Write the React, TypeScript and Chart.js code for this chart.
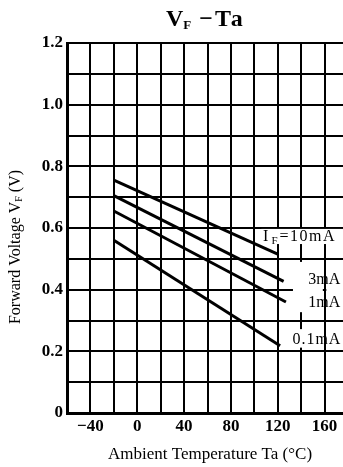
import React, { useEffect, useRef } from 'react';
import { Chart, registerables } from 'chart.js';

Chart.register(...registerables);

// ---- data ----
const tempIF10mA = [-20, 120];
const vfIF10mA = [0.755, 0.515];
const tempIF3mA = [-20, 125];
const vfIF3mA = [0.705, 0.427];
const tempIF1mA = [-20, 127];
const vfIF1mA = [0.655, 0.36];
const tempIF01mA = [-20, 122];
const vfIF01mA = [0.56, 0.218];

const xTickValues = [-40, 0, 40, 80, 120, 160];
const xTickLabels = ['−40', '0', '40', '80', '120', '160'];
const yTickValues = [0, 0.2, 0.4, 0.6, 0.8, 1.0, 1.2];
const yTickLabels = ['0', '0.2', '0.4', '0.6', '0.8', '1.0', '1.2'];

const titleParts = ['V', 'F', '−Ta'];
const xAxisTitle = 'Ambient Temperature Ta (°C)';
const yAxisTitleParts = ['Forward Voltage V', 'F', ' (V)'];
const label10mA = ['I', 'F', '=10mA'];
const label3mA = '3mA';
const label1mA = '1mA';
const label01mA = '0.1mA';

const SERIF = '"Liberation Serif", "Times New Roman", serif';

type Part = { text: string; size: number; bold?: boolean; dy?: number; spacing?: number; gap?: number };

function drawParts(ctx: CanvasRenderingContext2D, parts: Part[], x: number, y: number, align: 'left' | 'center') {
  const widths = parts.map((p) => {
    ctx.font = `${p.bold ? 'bold ' : ''}${p.size}px ${SERIF}`;
    (ctx as any).letterSpacing = `${p.spacing || 0}px`;
    return ctx.measureText(p.text).width + (p.gap || 0);
  });
  const total = widths.reduce((a, b) => a + b, 0);
  let cx = align === 'center' ? x - total / 2 : x;
  parts.forEach((p, i) => {
    ctx.font = `${p.bold ? 'bold ' : ''}${p.size}px ${SERIF}`;
    (ctx as any).letterSpacing = `${p.spacing || 0}px`;
    ctx.fillText(p.text, cx, y + (p.dy || 0));
    cx += widths[i];
  });
  (ctx as any).letterSpacing = '0px';
}

const labelBoxes = {
  id: 'labelBoxes',
  beforeDatasetsDraw(chart: any) {
    const ctx = chart.ctx as CanvasRenderingContext2D;
    const x = chart.scales.x;
    const y = chart.scales.y;
    ctx.save();
    ctx.fillStyle = '#fff';
    const box = (t0: number, t1: number, v0: number, v1: number) => {
      const px0 = x.getPixelForValue(t0);
      const px1 = x.getPixelForValue(t1);
      const py0 = y.getPixelForValue(v1);
      const py1 = y.getPixelForValue(v0);
      ctx.fillRect(px0, py0, px1 - px0, py1 - py0);
    };
    box(106, 185, 0.548, 0.597);
    box(133, 158.5, 0.327, 0.49);
    box(161.5, 185, 0.327, 0.49);
    box(131, 158.5, 0.212, 0.272);
    box(161.5, 185, 0.212, 0.272);
    ctx.restore();
  },
};

const textPlugin = {
  id: 'texts',
  afterDatasetsDraw(chart: any) {
    const ctx = chart.ctx as CanvasRenderingContext2D;
    const x = chart.scales.x;
    const y = chart.scales.y;
    ctx.save();
    ctx.fillStyle = '#000';
    ctx.textBaseline = 'alphabetic';
    ctx.textAlign = 'left';

    // title
    drawParts(ctx, [
      { text: titleParts[0], size: 24, bold: true },
      { text: titleParts[1], size: 13, bold: true, dy: 3, gap: 8 },
      { text: titleParts[2], size: 24, bold: true, spacing: 2 },
    ], 166, 26, 'left');

    // x axis title
    drawParts(ctx, [{ text: xAxisTitle, size: 17 }], 210, 459, 'center');

    // y axis title (rotated)
    ctx.save();
    ctx.translate(19.5, 247);
    ctx.rotate(-Math.PI / 2);
    drawParts(ctx, [
      { text: yAxisTitleParts[0], size: 16 },
      { text: yAxisTitleParts[1], size: 10, dy: 2 },
      { text: yAxisTitleParts[2], size: 16 },
    ], 0, 0, 'center');
    ctx.restore();

    // series labels
    drawParts(ctx, [
      { text: label10mA[0], size: 16, gap: 3 },
      { text: label10mA[1], size: 11, dy: 3, gap: 2 },
      { text: label10mA[2], size: 16, spacing: 1.5 },
    ], x.getPixelForValue(107.5), y.getPixelForValue(0.558), 'left');
    drawParts(ctx, [{ text: label3mA, size: 16, spacing: 0 }], x.getPixelForValue(146), y.getPixelForValue(0.418), 'left');
    drawParts(ctx, [{ text: label1mA, size: 16, spacing: 0 }], x.getPixelForValue(146), y.getPixelForValue(0.344), 'left');
    drawParts(ctx, [{ text: label01mA, size: 16, spacing: 1 }], x.getPixelForValue(132.5), y.getPixelForValue(0.225), 'left');
    ctx.restore();
  },
};

function pts(t: number[], v: number[]) {
  return t.map((tt, i) => ({ x: tt, y: v[i] }));
}

function near(a: number, b: number) {
  return Math.abs(a - b) < 1e-6;
}

export default function App() {
  const ref = useRef<HTMLCanvasElement | null>(null);
  useEffect(() => {
    if (!ref.current) return;
    const lineDs = (data: { x: number; y: number }[]) => ({
      data,
      borderColor: '#000',
      borderWidth: 3,
      pointRadius: 0,
      fill: false,
      tension: 0,
    });
    const chart = new Chart(ref.current, {
      type: 'line',
      data: {
        datasets: [
          lineDs(pts(tempIF10mA, vfIF10mA)),
          lineDs(pts(tempIF3mA, vfIF3mA)),
          lineDs(pts(tempIF1mA, vfIF1mA)),
          lineDs(pts(tempIF01mA, vfIF01mA)),
        ],
      },
      options: {
        responsive: false,
        maintainAspectRatio: false,
        devicePixelRatio: 1,
        animation: false,
        layout: { padding: { top: 43, right: 12, left: 0, bottom: 0 } },
        plugins: { legend: { display: false }, tooltip: { enabled: false }, title: { display: false } },
        scales: {
          x: {
            type: 'linear',
            min: -60,
            max: 180,
            grid: { color: '#000', lineWidth: 2, drawTicks: false },
            border: { display: true, color: '#000', width: 3 },
            ticks: {
              stepSize: 20,
              autoSkip: false,
              maxRotation: 0,
              padding: 3,
              color: '#000',
              font: { family: SERIF, size: 17, weight: 'bold' },
              callback: (v: any) => {
                const i = xTickValues.findIndex((t) => near(t, Number(v)));
                return i >= 0 ? xTickLabels[i] : '';
              },
            },
            afterFit: (s: any) => {
              s.height = 54;
            },
          },
          y: {
            type: 'linear',
            min: 0,
            max: 1.2,
            grid: { color: '#000', lineWidth: 2, drawTicks: false },
            border: { display: true, color: '#000', width: 3 },
            ticks: {
              stepSize: 0.1,
              autoSkip: false,
              padding: 4,
              color: '#000',
              font: { family: SERIF, size: 17, weight: 'bold' },
              callback: (v: any) => {
                const i = yTickValues.findIndex((t) => near(t, Number(v)));
                return i >= 0 ? yTickLabels[i] : '';
              },
            },
            afterFit: (s: any) => {
              s.width = 67;
            },
          },
        },
      } as any,
      plugins: [labelBoxes, textPlugin],
    });
    return () => chart.destroy();
  }, []);

  return (
    <div style={{ position: 'fixed', left: 0, top: 0, width: 343, height: 467, overflow: 'hidden', background: '#fff' }}>
      <canvas ref={ref} width={360} height={467} style={{ display: 'block', width: 360, height: 467 }} />
    </div>
  );
}
